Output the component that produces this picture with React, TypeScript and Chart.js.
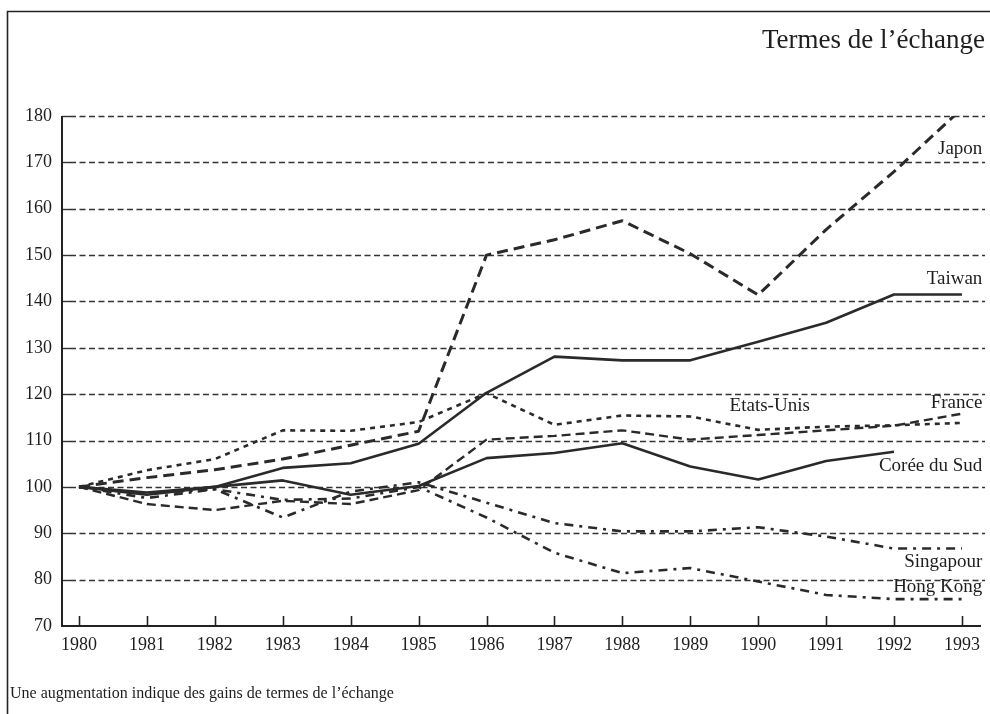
import React, { useEffect, useRef } from "react";
import { Chart, registerables } from "chart.js";

Chart.register(...registerables);

// ---- Data ----
const years = [1980, 1981, 1982, 1983, 1984, 1985, 1986, 1987, 1988, 1989, 1990, 1991, 1992, 1993];
const yTicks = [70, 80, 90, 100, 110, 120, 130, 140, 150, 160, 170, 180];

const japon = [100, 102, 103.7, 106, 109, 112, 150, 153.3, 157.4, 150.3, 141.4, 155.5, 168, 181.6];
const taiwan = [100, 98.3, 100, 104.1, 105.1, 109.3, 120.3, 128.1, 127.3, 127.3, 131.3, 135.4, 141.5, 141.5];
const etatsUnis = [100, 103.6, 106, 112.2, 112.1, 114, 120.2, 113.4, 115.4, 115.2, 112.3, 113, 113.3, 113.8];
const france = [100, 96.3, 95, 97, 96.3, 99.3, 110.2, 111, 112.2, 110.2, 111.2, 112.2, 113.2, 115.8];
const coreeDuSud = [100, 98.8, 100, 101.4, 98.3, 100.2, 106.2, 107.3, 109.4, 104.4, 101.6, 105.6, 107.6];
const singapour = [100, 97.6, 99.5, 93.4, 99, 101, 96.6, 92.2, 90.4, 90.4, 91.3, 89.3, 86.7, 86.7];
const hongKong = [100, 98.6, 99.5, 97.2, 97.5, 100, 93.4, 85.8, 81.4, 82.5, 79.6, 76.7, 75.8, 75.8];

const seriesLabels = [
  { text: "Japon", x: 1993.3, y: 172.8, align: "right" },
  { text: "Taiwan", x: 1993.3, y: 144.9, align: "right" },
  { text: "France", x: 1993.3, y: 118.2, align: "right" },
  { text: "Etats-Unis", x: 1990.17, y: 117.5, align: "center" },
  { text: "Corée du Sud", x: 1993.3, y: 104.4, align: "right" },
  { text: "Singapour", x: 1993.3, y: 83.7, align: "right" },
  { text: "Hong Kong", x: 1993.3, y: 78.4, align: "right" },
];

const titleText = "Termes de l\u2019échange";
const footerText = "Une augmentation indique des gains de termes de l\u2019échange";

const FONT = "'Liberation Serif', 'Times New Roman', serif";
const INK = "#2a2a2a";

function pts(vals: number[]) {
  return vals.map((v, i) => ({ x: years[i], y: v }));
}

const decorPlugin = {
  id: "decor",
  beforeDatasetsDraw(chart: any) {
    const { ctx, chartArea, scales } = chart;
    const xs = scales.x;
    const ys = scales.y;
    ctx.save();
    // dashed horizontal gridlines
    ctx.strokeStyle = "#333";
    ctx.lineWidth = 1.4;
    yTicks.forEach((v) => {
      if (v === ys.min) return;
      const py = Math.round(ys.getPixelForValue(v)) + 0.5;
      ctx.setLineDash([6, 3.5]);
      ctx.beginPath();
      ctx.moveTo(chartArea.left + 8, py);
      ctx.lineTo(chartArea.right + 2, py);
      ctx.stroke();
      ctx.setLineDash([]);
      ctx.beginPath();
      ctx.moveTo(chartArea.left, py);
      ctx.lineTo(chartArea.left + 8, py);
      ctx.stroke();
    });
    ctx.restore();
  },
  afterDatasetsDraw(chart: any) {
    const { ctx, chartArea, scales } = chart;
    const xs = scales.x;
    const ys = scales.y;
    ctx.save();
    // axes
    ctx.strokeStyle = "#222";
    ctx.lineWidth = 2;
    ctx.setLineDash([]);
    ctx.beginPath();
    ctx.moveTo(chartArea.left, ys.getPixelForValue(ys.max));
    ctx.lineTo(chartArea.left, chartArea.bottom);
    ctx.lineTo(chartArea.right - 2, chartArea.bottom);
    ctx.stroke();
    // inward x ticks
    ctx.lineWidth = 1.6;
    years.forEach((yr) => {
      const px = Math.round(xs.getPixelForValue(yr)) + 0.5;
      ctx.beginPath();
      ctx.moveTo(px, chartArea.bottom);
      ctx.lineTo(px, chartArea.bottom - 10);
      ctx.stroke();
    });
    // series labels
    ctx.fillStyle = "#1e1e1e";
    ctx.font = `19px ${FONT}`;
    ctx.textBaseline = "middle";
    seriesLabels.forEach((l) => {
      ctx.textAlign = l.align as CanvasTextAlign;
      ctx.fillText(l.text, xs.getPixelForValue(l.x), ys.getPixelForValue(l.y));
    });
    ctx.restore();
  },
  afterDraw(chart: any) {
    const { ctx } = chart;
    ctx.save();
    // frame
    ctx.strokeStyle = "#222";
    ctx.lineWidth = 1.6;
    ctx.beginPath();
    ctx.moveTo(7.5, 714);
    ctx.lineTo(7.5, 11.5);
    ctx.lineTo(990, 11.5);
    ctx.stroke();
    // title
    ctx.fillStyle = "#1e1e1e";
    ctx.font = `27px ${FONT}`;
    ctx.textAlign = "right";
    ctx.textBaseline = "alphabetic";
    ctx.fillText(titleText, 985, 48);
    // footer
    ctx.font = `16px ${FONT}`;
    ctx.textAlign = "left";
    ctx.fillText(footerText, 10, 698);
    ctx.restore();
  },
};

export default function App() {
  const ref = useRef<HTMLCanvasElement | null>(null);
  useEffect(() => {
    if (!ref.current) return;
    const ds = (label: string, data: number[], width: number, dash: number[]) => ({
      label,
      data: pts(data),
      borderColor: INK,
      borderWidth: width,
      borderDash: dash,
      borderCapStyle: "butt",
      borderJoinStyle: "round",
      pointRadius: 0,
      tension: 0,
      fill: false,
    });
    const chart = new Chart(ref.current, {
      type: "line",
      data: {
        datasets: [
          ds("Japon", japon, 3, [11, 6]),
          ds("Taiwan", taiwan, 2.6, []),
          ds("Etats-Unis", etatsUnis, 2.6, [5, 5]),
          ds("France", france, 2.4, [9, 5]),
          ds("Corée du Sud", coreeDuSud, 2.6, []),
          ds("Singapour", singapour, 2.6, [9, 6, 3, 6]),
          ds("Hong Kong", hongKong, 2.6, [9, 6, 3, 6]),
        ] as any,
      },
      options: {
        animation: false,
        responsive: false,
        events: [],
        layout: { padding: { left: 0, right: 7, top: 116, bottom: 0 } },
        plugins: { legend: { display: false }, tooltip: { enabled: false }, title: { display: false } },
        scales: {
          x: {
            type: "linear",
            min: 1979.75,
            max: 1993.31,
            afterBuildTicks(scale: any) {
              scale.ticks = years.map((v) => ({ value: v }));
            },
            afterFit(scale: any) {
              scale.height = 88;
            },
            grid: { display: false, drawTicks: false },
            border: { display: false },
            ticks: {
              autoSkip: false,
              maxRotation: 0,
              padding: 8,
              color: "#1e1e1e",
              font: { family: FONT, size: 18 },
              callback: (v: any) => String(v),
            },
          },
          y: {
            type: "linear",
            min: 70,
            max: 180,
            afterBuildTicks(scale: any) {
              scale.ticks = yTicks.map((v) => ({ value: v }));
            },
            afterFit(scale: any) {
              scale.width = 62;
            },
            grid: { display: false, drawTicks: false },
            border: { display: false },
            ticks: {
              padding: 10,
              color: "#1e1e1e",
              font: { family: FONT, size: 18 },
              callback: (v: any) => String(v),
            },
          },
        },
      },
      plugins: [decorPlugin],
    });
    return () => chart.destroy();
  }, []);
  return (
    <div style={{ position: "absolute", left: 0, top: 0, width: 990, height: 714, background: "#fff" }}>
      <canvas ref={ref} width={990} height={714} style={{ display: "block" }} />
    </div>
  );
}
